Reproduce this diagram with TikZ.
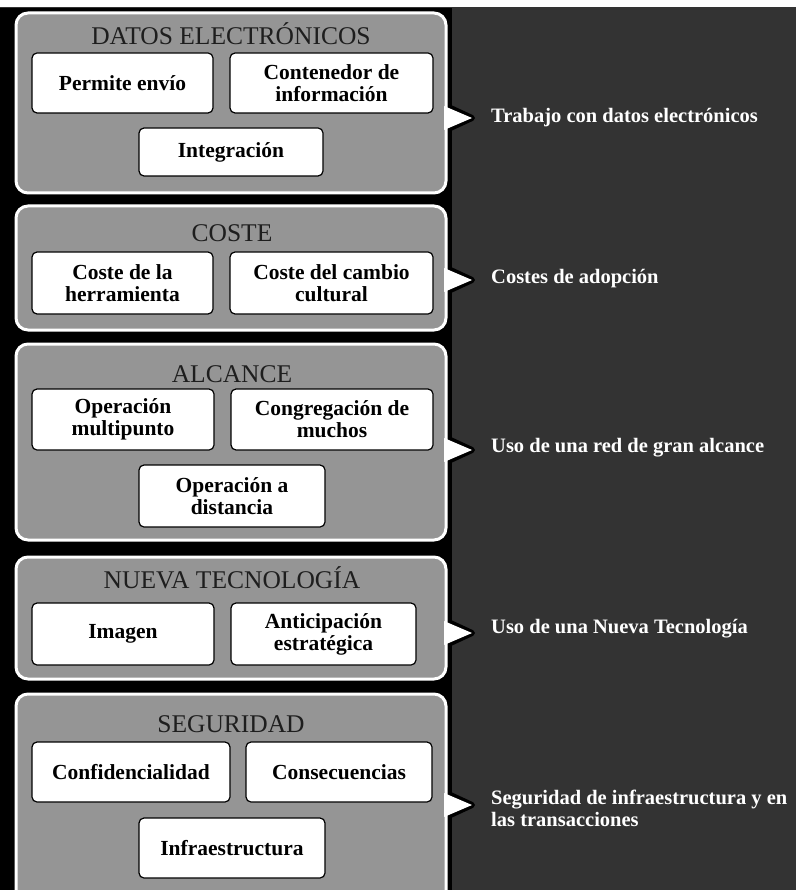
\documentclass[tikz,border=0pt]{standalone}
\usepackage{fontspec}
\setmainfont{Liberation Serif}
\definecolor{panelgray}{HTML}{959595}
\definecolor{bgdark}{HTML}{333333}
\definecolor{titleink}{HTML}{1E1E1E}

\begin{document}
\begin{tikzpicture}[x=1pt, y=-1pt,
  rim/.style={rounded corners=12pt},
  box/.style={draw, fill=white, rounded corners=5pt, line width=1.2pt,
              align=center, inner sep=2pt,
              font=\bfseries\fontsize{21.5}{22}\selectfont},
  ttl/.style={anchor=base, text=titleink, font=\fontsize{25.5}{28}\selectfont},
  lbl/.style={anchor=west, inner sep=0pt, text=white, align=left,
              font=\bfseries\fontsize{20.5}{22}\selectfont}]
  \useasboundingbox (0,0) rectangle (796,890);
  % backdrop
  \fill[bgdark] (0,0) rectangle (796,890);
  \fill[black] (0,8) rectangle (452,890);
  \fill[white] (0,0) rectangle (796,7);
  % panels, each with its pointer on the right edge
  \foreach \t/\b/\n in {13/193/118, 206/330/280, 344/540/450, 557/679/633, 694/905/805} {
    \draw[rim, line width=6pt] (16,\t) rectangle (446,\b);
    \draw[line width=6pt, line join=round] (446,\n-12) -- (472,\n) -- (446,\n+12);
    \draw[rim, line width=3pt, white, fill=panelgray] (16,\t) rectangle (446,\b);
    \fill[white] (444,\n-12) -- (472,\n) -- (444,\n+12) -- cycle;
  }
  % panel titles
  \node[ttl] (tdatos) at (231,45) {DATOS ELECTRÓNICOS};
  \node[ttl] (tcoste) at (232,242) {COSTE};
  \node[ttl] (talcance) at (232,382) {ALCANCE};
  \node[ttl] (tnueva) at (232,588) {NUEVA TECNOLOGÍA};
  \node[ttl] (tseguridad) at (231,732) {SEGURIDAD};
  % datos electronicos
  \node[box, minimum width=181pt, minimum height=60pt] (envio) at (122.5,83) {Permite envío};
  \node[box, minimum width=203pt, minimum height=60pt] (contenedor) at (331.5,83) {Contenedor de\\ información};
  \node[box, minimum width=184pt, minimum height=48pt] (integracion) at (231,152) {Integración};
  % coste
  \node[box, minimum width=181pt, minimum height=62pt] (herramienta) at (122.5,283) {Coste de la\\ herramienta};
  \node[box, minimum width=203pt, minimum height=62pt] (cambio) at (331.5,283) {Coste del cambio\\ cultural};
  % alcance
  \node[box, minimum width=182pt, minimum height=61pt] (multipunto) at (123,419.5) {Operación\\ multipunto};
  \node[box, minimum width=202pt, minimum height=61pt] (congregacion) at (332,419.5) {Congregación de\\ muchos};
  \node[box, minimum width=186pt, minimum height=62pt] (distancia) at (232,496) {Operación a\\ distancia};
  % nueva tecnologia
  \node[box, minimum width=182pt, minimum height=62pt] (imagen) at (123,634) {Imagen};
  \node[box, minimum width=185pt, minimum height=62pt] (anticipacion) at (323.5,634) {Anticipación\\ estratégica};
  % seguridad
  \node[box, minimum width=198pt, minimum height=60pt] (confidencialidad) at (131,772) {Confidencialidad};
  \node[box, minimum width=186pt, minimum height=60pt] (consecuencias) at (339,772) {Consecuencias};
  \node[box, minimum width=186pt, minimum height=60pt] (infraestructura) at (232,848) {Infraestructura};
  % labels beside the pointers
  \node[lbl] (ltrabajo) at (491,118) {Trabajo con datos electrónicos};
  \node[lbl] (lcostes) at (491,279) {Costes de adopción};
  \node[lbl] (lred) at (491,448) {Uso de una red de gran alcance};
  \node[lbl] (lnueva) at (491,629) {Uso de una Nueva Tecnología};
  \node[lbl] (lseguridad) at (491,808) {Seguridad de infraestructura y en\\ las transacciones};
\end{tikzpicture}
\end{document}
